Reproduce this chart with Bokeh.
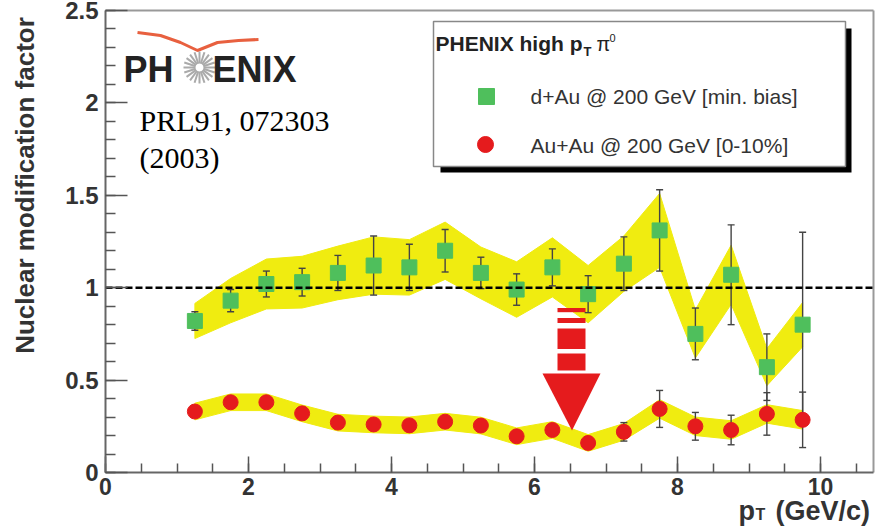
import numpy as np
from bokeh.plotting import figure
from bokeh.models import Range1d, FixedTicker, CustomJSTickFormatter
from bokeh.core.properties import value
from bokeh.embed import file_html
from bokeh.resources import INLINE

# ---------------- data ----------------
pt = [1.25, 1.75, 2.25, 2.75, 3.25, 3.75, 4.25, 4.75, 5.25,
      5.75, 6.25, 6.75, 7.25, 7.75, 8.25, 8.75, 9.25, 9.75]

dau_r = [0.82, 0.93, 1.02, 1.03, 1.08, 1.12, 1.11, 1.20, 1.08,
         0.99, 1.11, 0.965, 1.13, 1.31, 0.75, 1.07, 0.57, 0.80]
dau_stat = [0.05, 0.06, 0.07, 0.075, 0.095, 0.16, 0.125, 0.115, 0.085,
            0.085, 0.10, 0.10, 0.145, 0.22, 0.14, 0.27, 0.18, 0.50]
dau_sys = [0.095, 0.12, 0.135, 0.14, 0.145, 0.155, 0.15, 0.155, 0.14,
           0.15, 0.16, 0.155, 0.15, 0.20, 0.13, 0.16, 0.10, 0.12]

auau_r = [0.33, 0.38, 0.38, 0.32, 0.27, 0.26, 0.255, 0.275, 0.254,
          0.196, 0.23, 0.16, 0.22, 0.344, 0.25, 0.23, 0.317, 0.285]
auau_stat = [0.01, 0.01, 0.01, 0.01, 0.01, 0.015, 0.015, 0.015, 0.02,
             0.02, 0.025, 0.03, 0.05, 0.10, 0.075, 0.08, 0.115, 0.15]
auau_sys = [0.045, 0.045, 0.045, 0.045, 0.045, 0.045, 0.045, 0.045, 0.045,
            0.045, 0.045, 0.045, 0.045, 0.05, 0.05, 0.05, 0.05, 0.05]

x_ticks = [0, 2, 4, 6, 8, 10]
y_ticks = [0, 0.5, 1, 1.5, 2, 2.5]

y_title = "Nuclear modification factor"
legend_title = "PHENIX high p"
label_dau = "d+Au @ 200 GeV [min. bias]"
label_auau = "Au+Au @ 200 GeV [0-10%]"

# ---------------- styles ----------------
YELLOW = "#f0ec10"
GREEN = "#4fbf5c"
RED = "#e51b1d"
ERR = "#444444"
TXT = "#333333"
SANS = value("Liberation Sans")
SERIF = value("Liberation Serif")

# canvas-pixel -> data helpers for decorations (x=0 at 105px, y=0 at 472px)
W, H = 876, 527
X0, XS, Y0, YS = 105.0, 71.5, 472.0, 184.8
def dx(px):
    return (px - X0) / XS
def dy(py):
    return (Y0 - py) / YS

p = figure(width=W, height=H, output_backend="svg", toolbar_location=None,
           x_range=Range1d(dx(0), dx(W)), y_range=Range1d(dy(H), dy(0)),
           min_border_left=0, min_border_right=0, min_border_top=0,
           min_border_bottom=0)
p.grid.visible = False
p.outline_line_color = None
p.background_fill_color = "white"
p.border_fill_color = "white"

XR = dx(873)   # right edge of the plotting box

# axes (library axes pinned at the origin)
p.xaxis.fixed_location = 0
p.yaxis.fixed_location = 0
p.xaxis.bounds = (0, XR)
p.yaxis.bounds = (0, 2.5)
p.xaxis.ticker = FixedTicker(ticks=x_ticks, minor_ticks=list(np.arange(0, 10.8, 0.5)))
p.yaxis.ticker = FixedTicker(ticks=y_ticks, minor_ticks=list(np.round(np.arange(0, 2.51, 0.1), 2)))
p.yaxis.formatter = CustomJSTickFormatter(code="return String(tick);")
for ax in (p.xaxis[0], p.yaxis[0]):
    ax.axis_line_color = "#666666"
    ax.axis_line_width = 2
    ax.major_tick_line_color = "#555555"
    ax.minor_tick_line_color = "#555555"
    ax.major_tick_line_width = 1.5
    ax.minor_tick_line_width = 1.5
    ax.major_tick_out = 0
    ax.minor_tick_out = 0
    ax.major_label_text_font = "Liberation Sans"
    ax.major_label_text_font_style = "bold"
    ax.major_label_text_color = TXT
p.yaxis.major_tick_in = 22
p.yaxis.minor_tick_in = 10
p.xaxis.major_tick_in = 16
p.xaxis.minor_tick_in = 9
p.yaxis.major_label_text_font_size = "24px"
p.xaxis.major_label_text_font_size = "23px"
p.yaxis.major_label_standoff = 7
p.xaxis.major_label_standoff = 5

# top and right border of the plotting box
p.segment(x0=[0, XR], y0=[2.5, 0], x1=[XR, XR], y1=[2.5, 2.5],
          line_color="#999999", line_width=2)

# ---------------- systematic bands ----------------
def band(x, y, s):
    up = [a + b for a, b in zip(y, s)]
    lo = [a - b for a, b in zip(y, s)]
    return list(x) + list(x)[::-1], up + lo[::-1]

bx, by = band(pt, dau_r, dau_sys)
p.patch(bx, by, fill_color=YELLOW, line_color=YELLOW, line_width=1)
bx, by = band(pt, auau_r, auau_sys)
p.patch(bx, by, fill_color=YELLOW, line_color=YELLOW, line_width=1)

# ---------------- arrow ----------------
shaft_l, shaft_r = dx(557), dx(585)
stripes = [(307.5, 311.7), (317.5, 322.5), (328.0, 348.5), (353.0, 370.0)]
p.quad(left=[shaft_l] * 4, right=[shaft_r] * 4,
       top=[dy(a) for a, b in stripes], bottom=[dy(b) for a, b in stripes],
       fill_color=RED, line_color=None)
p.patch([dx(542), dx(600), dx(571.5)], [dy(373), dy(373), dy(430)],
        fill_color=RED, line_color=None)

# ---------------- statistical errors ----------------
def errbars(x, y, e):
    hi = [a + b for a, b in zip(y, e)]
    lo = [a - b for a, b in zip(y, e)]
    p.segment(x0=x, y0=lo, x1=x, y1=hi, line_color=ERR, line_width=1.4)
    p.scatter(x, hi, marker="dash", size=7, line_color=ERR, line_width=1.4)
    p.scatter(x, lo, marker="dash", size=7, line_color=ERR, line_width=1.4)

errbars(pt, dau_r, dau_stat)
errbars(pt, auau_r, auau_stat)

# ---------------- markers ----------------
p.scatter(pt, dau_r, marker="square", size=15, fill_color=GREEN, line_color=GREEN)
p.scatter(pt, auau_r, marker="circle", size=15, fill_color=RED, line_color=RED)

# reference line at 1
p.segment(x0=[0], y0=[1], x1=[XR], y1=[1], line_color="black",
          line_width=2.5, line_dash="7 3")

# ---------------- legend box ----------------
p.quad(left=[dx(440)], right=[dx(851)], top=[dy(28)], bottom=[dy(172)],
       fill_color="black", line_color=None)
p.quad(left=[dx(433)], right=[dx(845)], top=[dy(21)], bottom=[dy(166)],
       fill_color="white", line_color="#888888", line_width=1.5)
p.text(x=[dx(435)], y=[dy(43)], text=[legend_title], text_font=SANS,
       text_font_style="bold", text_font_size="21px", text_color="#222222",
       text_baseline="alphabetic")
p.text(x=[dx(583)], y=[dy(51)], text=["T"], text_font=SANS,
       text_font_style="bold", text_font_size="13px", text_color="#222222",
       text_baseline="alphabetic")
p.text(x=[dx(596)], y=[dy(43)], text=["\u03c0"], text_font=SANS,
       text_font_size="20px", text_color="#222222", text_baseline="alphabetic")
p.text(x=[dx(609)], y=[dy(37)], text=["0"], text_font=SANS,
       text_font_size="11px", text_color="#222222", text_baseline="alphabetic")
p.scatter([dx(486)], [dy(96)], marker="square", size=16, fill_color=GREEN, line_color=GREEN)
p.scatter([dx(485)], [dy(144)], marker="circle", size=16, fill_color=RED, line_color=RED)
p.text(x=[dx(530), dx(530)], y=[dy(96), dy(145)], text=[label_dau, label_auau],
       text_font=SANS, text_font_size="21px", text_color=TXT,
       text_baseline="alphabetic")

# ---------------- PHENIX logo ----------------
arc_px = [137, 160, 180, 197, 217, 238, 258]
arc_py = [32, 35, 42, 50, 42, 40, 39]
p.line([dx(v) for v in arc_px], [dy(v) for v in arc_py], line_color="#e8603f", line_width=3)
ang = np.linspace(0, 2 * np.pi, 20, endpoint=False)
cx, cy = 199, 67
p.segment(x0=[dx(cx + 4 * np.cos(a)) for a in ang], y0=[dy(cy - 4 * np.sin(a)) for a in ang],
          x1=[dx(cx + 16 * np.cos(a)) for a in ang], y1=[dy(cy - 16 * np.sin(a)) for a in ang],
          line_color="#aaaaaa", line_width=2)
p.text(x=[dx(123), dx(212)], y=[dy(69), dy(69)], text=["PH", "ENIX"], text_font=SANS,
       text_font_style="bold", text_font_size="36px", text_color="#222222",
       text_baseline="alphabetic")

# reference text
p.text(x=[dx(139), dx(139)], y=[dy(120), dy(157)], text=["PRL91, 072303", "(2003)"],
       text_font=SERIF, text_font_size="30px", text_color="black",
       text_baseline="alphabetic")

# ---------------- axis titles ----------------
p.text(x=[dx(24)], y=[dy(185)], text=[y_title], angle=np.pi / 2,
       text_align="center", text_baseline="middle", text_font=SANS,
       text_font_style="bold", text_font_size="26px", text_color=TXT)
p.text(x=[dx(738), dx(775)], y=[dy(510), dy(510)], text=["p", "(GeV/c)"],
       text_font=SANS, text_font_style="bold", text_font_size="27px",
       text_color=TXT, text_baseline="alphabetic")
p.text(x=[dx(755)], y=[dy(514)], text=["T"], text_font=SANS,
       text_font_style="bold", text_font_size="16px", text_color=TXT,
       text_baseline="alphabetic")

open("out.html", "w").write(file_html(p, INLINE))
